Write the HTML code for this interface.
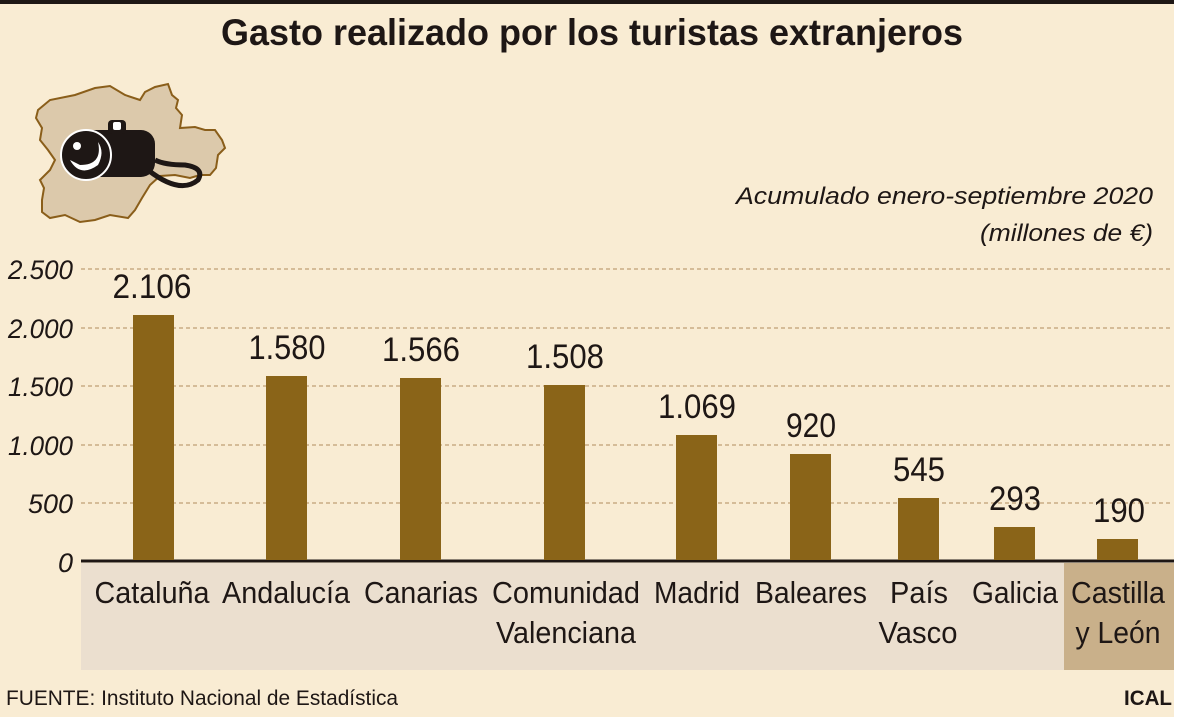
<!DOCTYPE html>
<html><head><meta charset="utf-8"><style>
html,body{margin:0;padding:0;background:#fff}
svg{display:block}
text{font-family:"Liberation Sans",sans-serif}
</style></head><body>
<svg width="1179" height="717" viewBox="0 0 1179 717">
<rect x="0" y="0" width="1174" height="717" fill="#f9ecd3"/>
<rect x="0" y="0" width="1174" height="4" fill="#1e1715"/>
<text x="592" y="45" text-anchor="middle" font-size="37" font-weight="bold" fill="#1e1715" textLength="742" lengthAdjust="spacingAndGlyphs">Gasto realizado por los turistas extranjeros</text>
<path d="M38,110 L50,100 L75,95 L95,88 L110,86 L125,95 L140,100 L145,92 L155,87 L168,84 L172,95 L178,100 L176,108 L182,115 L180,128 L195,127 L205,130 L215,130 L222,140 L225,148 L218,155 L216,168 L210,175 L200,175 L190,178 L175,175 L160,176 L150,185 L142,198 L135,210 L128,218 L110,215 L95,220 L80,222 L65,215 L50,218 L42,212 L42,200 L44,188 L40,180 L50,170 L55,160 L48,150 L40,140 L42,128 L36,118 Z" fill="#dcc9ab" stroke="#8a5e1a" stroke-width="2"/>
<g>
<path d="M148,170 Q180,195 198,180 Q205,168 185,165 Q165,165 155,160" fill="none" stroke="#1e1715" stroke-width="5"/>
<rect x="70" y="130" width="85" height="47" rx="14" fill="#1e1715"/>
<rect x="108" y="120" width="18" height="14" rx="4" fill="#1e1715"/>
<rect x="113" y="122" width="8" height="8" rx="2" fill="#fff"/>
<circle cx="86" cy="155" r="25" fill="#1e1715" stroke="#fff" stroke-width="2"/>
<path d="M70,160 Q80,178 98,165 Q105,152 98,142 Q103,165 80,165 Z" fill="#fff"/>
<circle cx="77" cy="146" r="4" fill="#fff"/>
</g>
<text x="1153" y="204" text-anchor="end" font-size="24" font-style="italic" fill="#1e1715" textLength="417" lengthAdjust="spacingAndGlyphs">Acumulado enero-septiembre 2020</text>
<text x="1153" y="241" text-anchor="end" font-size="24" font-style="italic" fill="#1e1715" textLength="173" lengthAdjust="spacingAndGlyphs">(millones de €)</text>
<g stroke="#c9ab85" stroke-width="1.5" stroke-dasharray="4,3">
<line x1="81" y1="269" x2="1173" y2="269"/>
<line x1="81" y1="328" x2="1173" y2="328"/>
<line x1="81" y1="386" x2="1173" y2="386"/>
<line x1="81" y1="445" x2="1173" y2="445"/>
<line x1="81" y1="503" x2="1173" y2="503"/>
</g>
<g font-size="27" font-style="italic" fill="#1e1715" text-anchor="end">
<text x="73" y="279" textLength="65" lengthAdjust="spacingAndGlyphs">2.500</text>
<text x="73" y="338" textLength="65" lengthAdjust="spacingAndGlyphs">2.000</text>
<text x="73" y="396" textLength="65" lengthAdjust="spacingAndGlyphs">1.500</text>
<text x="73" y="455" textLength="65" lengthAdjust="spacingAndGlyphs">1.000</text>
<text x="73" y="513" textLength="45" lengthAdjust="spacingAndGlyphs">500</text>
<text x="73" y="572">0</text>
</g>
<rect x="81" y="563" width="983" height="107" fill="#ebdfcf"/>
<rect x="1064" y="563" width="110" height="107" fill="#c9b08a"/>
<line x1="81" y1="561" x2="1174" y2="561" stroke="#1e1715" stroke-width="3"/>
<g fill="#8a6418">
<rect x="133" y="315" width="41" height="245"/>
<rect x="266" y="376" width="41" height="184"/>
<rect x="400" y="378" width="41" height="182"/>
<rect x="544" y="385" width="41" height="175"/>
<rect x="676" y="435" width="41" height="125"/>
<rect x="790" y="454" width="41" height="106"/>
<rect x="898" y="498" width="41" height="62"/>
<rect x="994" y="527" width="41" height="33"/>
<rect x="1097" y="539" width="41" height="21"/>
</g>
<g font-size="34" fill="#1e1715" text-anchor="middle">
<text x="152" y="298" textLength="79" lengthAdjust="spacingAndGlyphs">2.106</text>
<text x="287" y="359" textLength="77" lengthAdjust="spacingAndGlyphs">1.580</text>
<text x="421" y="361" textLength="78" lengthAdjust="spacingAndGlyphs">1.566</text>
<text x="565" y="368" textLength="78" lengthAdjust="spacingAndGlyphs">1.508</text>
<text x="697" y="418" textLength="78" lengthAdjust="spacingAndGlyphs">1.069</text>
<text x="811" y="437" textLength="50" lengthAdjust="spacingAndGlyphs">920</text>
<text x="919" y="481" textLength="52" lengthAdjust="spacingAndGlyphs">545</text>
<text x="1015" y="510" textLength="52" lengthAdjust="spacingAndGlyphs">293</text>
<text x="1119" y="522" textLength="52" lengthAdjust="spacingAndGlyphs">190</text>
</g>
<g font-size="31" fill="#1e1715" text-anchor="middle">
<text x="152" y="603" textLength="115" lengthAdjust="spacingAndGlyphs">Cataluña</text>
<text x="286" y="603" textLength="128" lengthAdjust="spacingAndGlyphs">Andalucía</text>
<text x="421" y="603" textLength="114" lengthAdjust="spacingAndGlyphs">Canarias</text>
<text x="566" y="603" textLength="148" lengthAdjust="spacingAndGlyphs">Comunidad</text>
<text x="566" y="643" textLength="140" lengthAdjust="spacingAndGlyphs">Valenciana</text>
<text x="697" y="603" textLength="86" lengthAdjust="spacingAndGlyphs">Madrid</text>
<text x="811" y="603" textLength="112" lengthAdjust="spacingAndGlyphs">Baleares</text>
<text x="919" y="603" textLength="58" lengthAdjust="spacingAndGlyphs">País</text>
<text x="918" y="643" textLength="79" lengthAdjust="spacingAndGlyphs">Vasco</text>
<text x="1015" y="603" textLength="86" lengthAdjust="spacingAndGlyphs">Galicia</text>
<text x="1118" y="603" textLength="94" lengthAdjust="spacingAndGlyphs">Castilla</text>
<text x="1118" y="643" textLength="85" lengthAdjust="spacingAndGlyphs">y León</text>
</g>
<text x="6" y="705" font-size="21" fill="#1e1715" textLength="392" lengthAdjust="spacingAndGlyphs">FUENTE: Instituto Nacional de Estadística</text>
<text x="1172" y="705" font-size="21" font-weight="bold" fill="#1e1715" text-anchor="end" textLength="48" lengthAdjust="spacingAndGlyphs">ICAL</text>
</svg>
</body></html>
